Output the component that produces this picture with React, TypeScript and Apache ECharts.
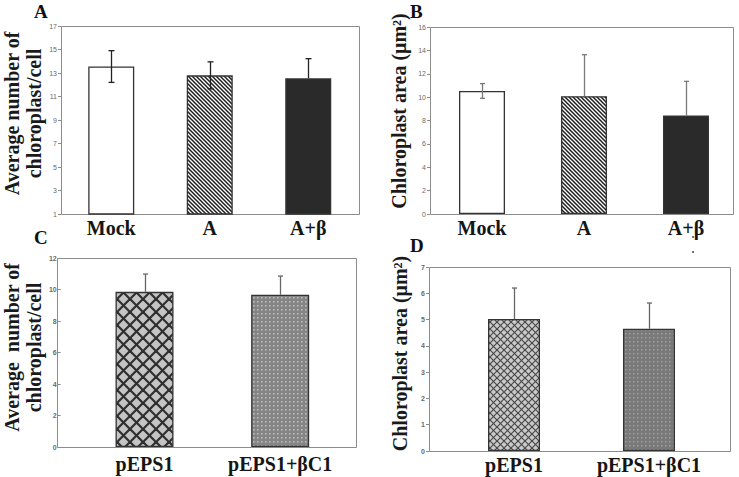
import React, { useEffect, useRef } from "react";
import * as echarts from "echarts";

// ---------- data ----------
const abCategories = ["Mock", "A", "A+β"];
const aMeans = [13.55, 12.8, 12.55];
const aErrors = [1.35, 1.15, 1.67];
const aTicks = { min: 1, max: 17, interval: 2 };

const bMeans = [10.53, 10.08, 8.42];
const bErrors = [0.63, 3.55, 2.93];
const bTicks = { min: 0, max: 16, interval: 2 };

const cdCategories = ["pEPS1", "pEPS1+βC1"];
const cMeans = [9.85, 9.67];
const cErrors = [1.13, 1.18];
const cTicks = { min: 0, max: 12, interval: 2 };

const dMeans = [5.02, 4.65];
const dErrors = [1.18, 0.98];
const dTicks = { min: 0, max: 7, interval: 1 };

const aTitle = "Average number of\nchloroplast/cell";
const bTitle = "Chloroplast area (μm²)";
const cTitle = "Average  number of\nchloroplast/cell";
const dTitle = "Chloroplast area (μm²)";

// ---------- patterns ----------
function makePattern(size: number, draw: (ctx: CanvasRenderingContext2D, s: number) => void) {
  const c = document.createElement("canvas");
  c.width = size;
  c.height = size;
  const ctx = c.getContext("2d") as CanvasRenderingContext2D;
  draw(ctx, size);
  return { image: c, repeat: "repeat", imageWidth: size, imageHeight: size } as any;
}

function diag(ctx: CanvasRenderingContext2D, s: number, back: boolean) {
  for (const k of [-1, 0, 1]) {
    ctx.beginPath();
    if (back) {
      ctx.moveTo(-1, -1 + k * s);
      ctx.lineTo(s + 1, s + 1 + k * s);
    } else {
      ctx.moveTo(-1, s + 1 + k * s);
      ctx.lineTo(s + 1, -1 + k * s);
    }
    ctx.stroke();
  }
}

function buildFills() {
  const hatch = makePattern(4, (ctx, s) => {
    ctx.fillStyle = "#ffffff";
    ctx.fillRect(0, 0, s, s);
    ctx.strokeStyle = "#1e1e1e";
    ctx.lineWidth = 1.5;
    diag(ctx, s, true);
  });
  const crossBig = makePattern(13, (ctx, s) => {
    ctx.fillStyle = "#c4c4c4";
    ctx.fillRect(0, 0, s, s);
    ctx.strokeStyle = "#2f2f2f";
    ctx.lineWidth = 2.2;
    diag(ctx, s, true);
    diag(ctx, s, false);
  });
  const crossSmall = makePattern(7, (ctx, s) => {
    ctx.fillStyle = "#cacaca";
    ctx.fillRect(0, 0, s, s);
    ctx.strokeStyle = "#4a4a4a";
    ctx.lineWidth = 1.2;
    diag(ctx, s, true);
    diag(ctx, s, false);
  });
  const dotsBig = makePattern(4, (ctx, s) => {
    ctx.fillStyle = "#858585";
    ctx.fillRect(0, 0, s, s);
    ctx.fillStyle = "#bdbdbd";
    ctx.fillRect(1, 1, 1.6, 1.6);
  });
  const dotsSmall = makePattern(4, (ctx, s) => {
    ctx.fillStyle = "#7a7a7a";
    ctx.fillRect(0, 0, s, s);
    ctx.fillStyle = "#9d9d9d";
    ctx.fillRect(1, 1, 1.5, 1.5);
  });
  return { hatch, crossBig, crossSmall, dotsBig, dotsSmall };
}

const SERIF = "Liberation Serif";
const SANS = "Liberation Sans";
const FRAME = "#8c8c8c";

export default function App() {
  const ref = useRef<HTMLDivElement>(null);

  useEffect(() => {
    if (!ref.current) return;
    const chart = echarts.init(ref.current, null, { renderer: "svg" });
    const f = buildFills();

    const panels = [
      {
        cats: abCategories, means: aMeans, errs: aErrors, ticks: aTicks, title: aTitle,
        grid: { left: 62, top: 26, width: 295.5, height: 188 },
        frame: { x: 61, y: 26, w: 298, h: 188 },
        offset: 1, barWidth: 46, nameGap: 16, namePad: 13, labelMargin: 4,
        fills: ["#ffffff", f.hatch, "#2a2a2a"],
        lower: [true, true, false], errColor: "#222222", capW: 6,
        tickBold: false,
      },
      {
        cats: abCategories, means: bMeans, errs: bErrors, ticks: bTicks, title: bTitle,
        grid: { left: 431, top: 27, width: 306, height: 187 },
        frame: { x: 430, y: 27, w: 303, h: 187 },
        offset: 1, barWidth: 46, nameGap: 20, namePad: 19, labelMargin: 4,
        fills: ["#ffffff", f.hatch, "#2a2a2a"],
        lower: [true, false, false], errColor: "#7a7a7a", capW: 5,
        tickBold: false,
      },
      {
        cats: cdCategories, means: cMeans, errs: cErrors, ticks: cTicks, title: cTitle,
        grid: { left: 73, top: 258, width: 275, height: 189 },
        frame: { x: 57, y: 258, w: 299, h: 189 },
        offset: 16, barWidth: 58, nameGap: 8, namePad: 10, labelMargin: 7,
        fills: [f.crossBig, f.dotsBig],
        lower: [false, false], errColor: "#666666", capW: 5,
        tickBold: true,
      },
      {
        cats: cdCategories, means: dMeans, errs: dErrors, ticks: dTicks, title: dTitle,
        grid: { left: 446.5, top: 267, width: 270, height: 184 },
        frame: { x: 429, y: 267, w: 301, h: 184 },
        offset: 17.5, barWidth: 52, nameGap: 18, namePad: 11, labelMargin: 4,
        fills: [f.crossSmall, f.dotsSmall],
        lower: [false, false], errColor: "#666666", capW: 5,
        tickBold: true,
      },
    ];

    const grid: any[] = [];
    const xAxis: any[] = [];
    const yAxis: any[] = [];
    const series: any[] = [];
    const graphic: any[] = [];

    panels.forEach((p, i) => {
      grid.push({ ...p.grid, containLabel: false });
      xAxis.push({
        type: "category",
        gridIndex: i,
        data: p.cats,
        axisLine: { show: false },
        axisTick: { show: false },
        axisLabel: {
          interval: 0,
          margin: p.labelMargin,
          fontFamily: SERIF,
          fontWeight: "bold",
          fontSize: 20,
          color: "#151515",
        },
      });
      yAxis.push({
        type: "value",
        gridIndex: i,
        min: p.ticks.min,
        max: p.ticks.max,
        interval: p.ticks.interval,
        offset: p.offset,
        splitLine: { show: false },
        axisLine: { show: false },
        axisTick: { show: true, length: 3, lineStyle: { color: FRAME, width: 1 } },
        axisLabel: {
          fontFamily: SANS,
          fontSize: 7,
          fontWeight: p.tickBold ? "bold" : "normal",
          color: "#6a6a6a",
          margin: 4,
        },
        name: p.title,
        nameLocation: "middle",
        nameRotate: 90,
        nameGap: p.nameGap,
        nameTextStyle: {
          fontFamily: SERIF,
          fontWeight: "bold",
          fontSize: 20,
          lineHeight: 22,
          color: "#1a1a1a",
          padding: [0, 0, 0, p.namePad],
        },
      });
      series.push({
        type: "bar",
        xAxisIndex: i,
        yAxisIndex: i,
        barWidth: p.barWidth,
        z: 3,
        data: p.means.map((v, k) => ({
          value: v,
          itemStyle: { color: p.fills[k], borderColor: "#333333", borderWidth: 1.3 },
        })),
      });
      series.push({
        type: "custom",
        xAxisIndex: i,
        yAxisIndex: i,
        z: 5,
        data: p.means.map((m, k) => [k, m, p.errs[k], p.lower[k] ? 1 : 0]),
        renderItem: (params: any, api: any) => {
          const x = api.value(0);
          const m = api.value(1);
          const e = api.value(2);
          const showLower = api.value(3) === 1;
          const top = api.coord([x, m + e]);
          const mid = api.coord([x, m]);
          const bot = api.coord([x, m - e]);
          const style = { stroke: p.errColor, lineWidth: 1.3 };
          const cx = Math.round(top[0]) + 0.5;
          const children: any[] = [
            { type: "line", shape: { x1: cx, y1: top[1], x2: cx, y2: showLower ? bot[1] : mid[1] }, style },
            { type: "line", shape: { x1: cx - p.capW / 2, y1: top[1], x2: cx + p.capW / 2, y2: top[1] }, style },
          ];
          if (showLower) {
            children.push({
              type: "line",
              shape: { x1: cx - p.capW / 2, y1: bot[1], x2: cx + p.capW / 2, y2: bot[1] },
              style,
            });
          }
          return { type: "group", children };
        },
      });
      graphic.push({
        type: "rect",
        z: 1,
        shape: { x: p.frame.x + 0.5, y: p.frame.y + 0.5, width: p.frame.w, height: p.frame.h },
        style: { fill: "none", stroke: FRAME, lineWidth: 1 },
      });
    });

    const letters = [
      { t: "A", x: 34, y: 2 },
      { t: "B", x: 410, y: 2 },
      { t: "C", x: 34, y: 228 },
      { t: "D", x: 410, y: 236 },
    ];
    letters.forEach((l) => {
      graphic.push({
        type: "text",
        x: l.x,
        y: l.y,
        style: {
          text: l.t,
          fontFamily: SERIF,
          fontWeight: "bold",
          fontSize: 19,
          fill: "#111111",
        },
      });
    });
    graphic.push({ type: "circle", shape: { cx: 693, cy: 237, r: 0.9 }, style: { fill: "#333" } });
    graphic.push({ type: "circle", shape: { cx: 693, cy: 252, r: 0.9 }, style: { fill: "#333" } });

    chart.setOption({
      animation: false,
      backgroundColor: "#ffffff",
      textStyle: { fontFamily: SERIF },
      grid,
      xAxis,
      yAxis,
      series,
      graphic,
    });

    return () => chart.dispose();
  }, []);

  return (
    <div
      ref={ref}
      style={{ position: "fixed", left: 0, top: 0, width: 739, height: 477 }}
    />
  );
}
